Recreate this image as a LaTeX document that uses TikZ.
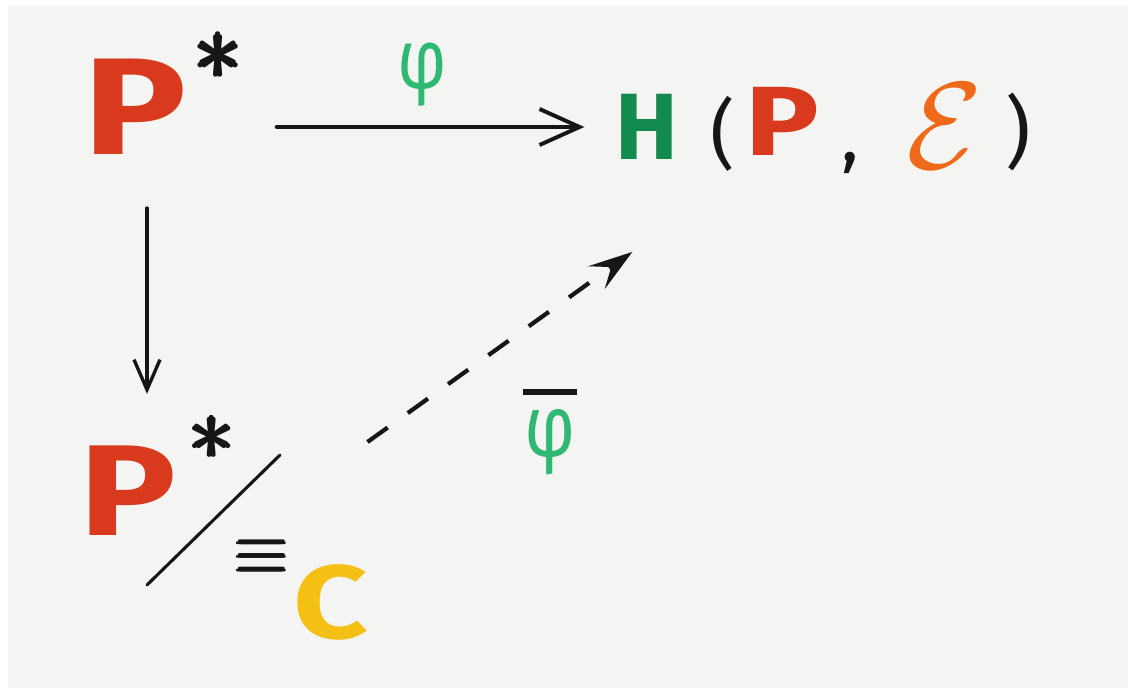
\documentclass[tikz,border=0pt]{standalone}
\usepackage{amsmath}
\usepackage{fontspec}
\setmainfont{Fira Sans}
\usetikzlibrary{arrows.meta, calc}
\definecolor{board}{HTML}{F4F4F2}
\definecolor{ink}{HTML}{161616}
\definecolor{pred}{HTML}{D93A1E}
\definecolor{hgreen}{HTML}{138A4E}
\definecolor{phigreen}{HTML}{2EB872}
\definecolor{eorange}{HTML}{EE6A1A}
\definecolor{cyellow}{HTML}{F5C014}
\newcommand{\inksize}[1]{\fontsize{#1}{#1}\selectfont}
\newcommand{\wide}[1]{\scalebox{1.25}[1]{#1}}
\newcommand{\bigsym}[2]{\scalebox{#1}{$\pmb{#2}$}}
\tikzset{
  glyph/.style={inner sep=0pt, text=ink},
  flowarr/.style={draw=ink, line width=2.8pt, line cap=round, -{Straight Barb[length=1cm, width=0.9cm, line width=2.8pt]}},
  downarr/.style={draw=ink, line width=2.4pt, line cap=round, -{Straight Barb[length=0.75cm, width=0.65cm, line width=2.4pt]}},
  dasharr/.style={draw=ink, line width=3pt, dash pattern=on 0.62cm off 0.62cm, -{Stealth[length=1.1cm, width=0.7cm, inset=0.45cm]}},
}

\begin{document}
\begin{tikzpicture}[x=0.025cm, y=-0.025cm]
\fill[white] (0,0) rectangle (1128,688);
\fill[board] (8,6) rectangle (1128,688);
\useasboundingbox (0,0) rectangle (1128,688);

% top row
\node[glyph, text=pred] (p1) at (135,107) {\inksize{98}\bfseries\wide{P}};
\node[glyph, inner sep=2pt] (s1) at (220,56) {\bigsym{7}{\ast}};
\node[glyph, text=phigreen] (phi) at (422,75) {\inksize{60}\scalebox{0.8}[1]{φ}};
\node[glyph, text=hgreen] (H) at (647,127) {\inksize{67}\bfseries H};
\node[glyph] (lp) at (723,134) {\inksize{54}(};
\node[glyph, text=pred] (p2) at (782,121) {\inksize{70}\bfseries\wide{P}};
\node[glyph] (cm) at (850,163) {\inksize{52},};
\node[glyph, text=eorange] (E) at (945,126) {\scalebox{8.8}{$\mathcal{E}$}};
\node[glyph] (rp) at (1018,132) {\inksize{56})};

% quotient
\node[glyph, text=pred] (p3) at (128,491) {\inksize{92}\bfseries\wide{P}};
\node[glyph] (s2) at (214,438) {\bigsym{6.6}{\ast}};
\node[glyph] (eq) at (263,557) {\bigsym{5}{\equiv}};
\node[glyph, text=cyellow] (C) at (331,602) {\inksize{74}\bfseries\wide{C}};
\draw[ink, line width=2.2pt, line cap=round] (147,585) -- (280,455);
\node[glyph, align=center, font=\inksize{62}] (phibar) at (550,432) {\rule{1.35cm}{4.5pt}\\[-18pt]\textcolor{phigreen}{\scalebox{0.8}[1]{φ}}};

% arrows
\draw[flowarr] ($(s1.east |- H.west)+(29,0)$) -- ($(H.west)+(-31,0)$);
\draw[downarr] ($(p1.south)+(12,53)$) -- ($(p3.north)+(19,-52)$);
\draw[dasharr] ($(s2.east)+(130,4)$) -- ($(H.south west)+(17,92)$);
\end{tikzpicture}
\end{document}
